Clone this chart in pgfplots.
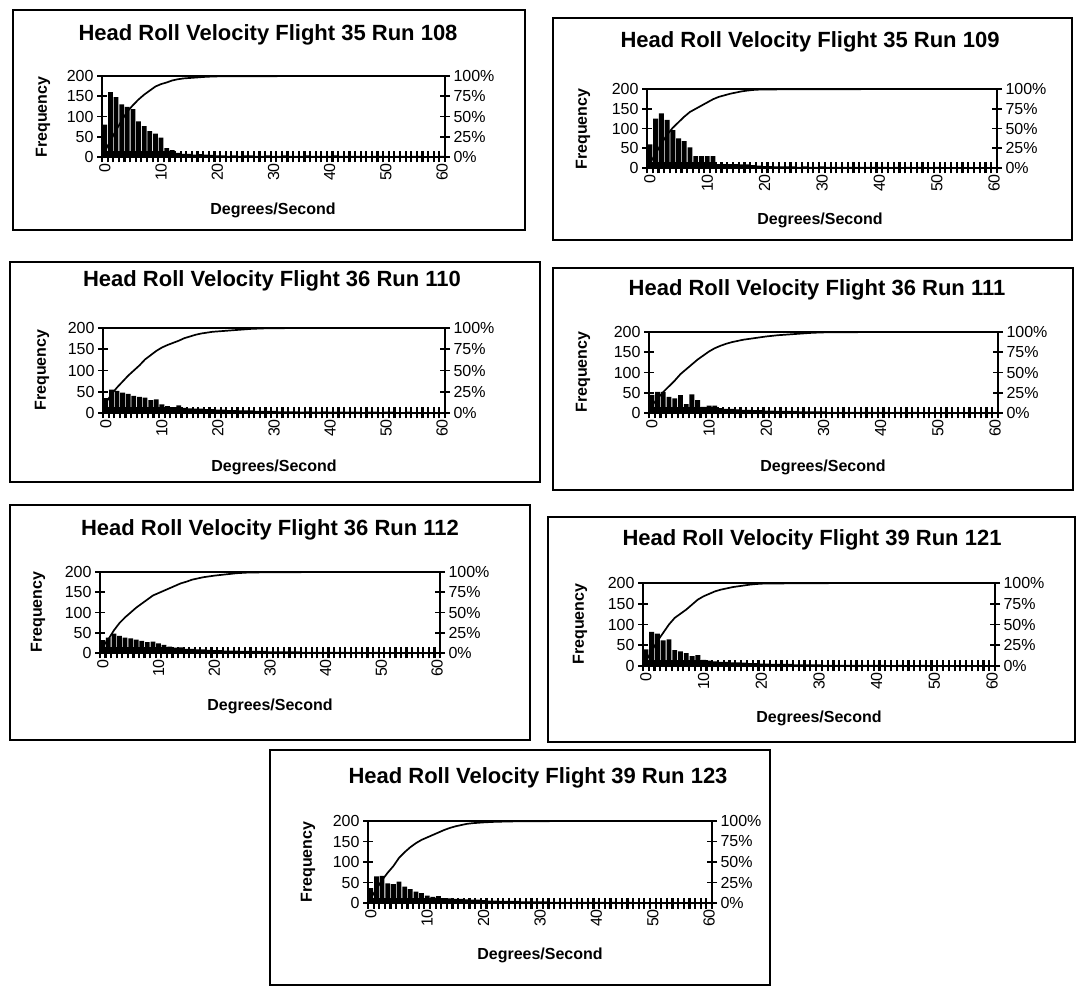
\documentclass[border=0pt]{standalone}
\usepackage{fontspec}
\setmainfont{Liberation Sans}
\usepackage{pgfplots}
\pgfplotsset{compat=1.18}
\usepackage{pgfplotstable}

% ---------- bars (frequency per 1 deg/s bin) ----------
\pgfplotstableread[row sep=\\]{x y\\0 80\\1 160\\2 148\\3 130\\4 124\\5 118\\6 88\\7 76\\8 64\\9 58\\10 48\\11 22\\12 17\\13 10\\14 8\\15 8\\16 6\\17 7\\18 6\\19 5\\20 4\\21 4\\22 3\\23 4\\24 3\\25 4\\26 4\\27 3\\28 3\\29 4\\30 3\\31 3\\32 4\\33 3\\34 3\\35 3\\36 4\\37 3\\38 3\\39 3\\40 3\\41 4\\42 3\\43 3\\44 3\\45 3\\46 3\\47 2\\48 3\\49 3\\50 3\\51 2\\52 3\\53 3\\54 2\\55 3\\56 3\\57 2\\58 2\\59 2\\60 3\\}\barsA
\pgfplotstableread[row sep=\\]{x y\\0 60\\1 125\\2 138\\3 122\\4 96\\5 75\\6 68\\7 52\\8 30\\9 30\\10 30\\11 30\\12 10\\13 10\\14 10\\15 10\\16 9\\17 9\\18 7\\19 6\\20 5\\21 5\\22 4\\23 4\\24 4\\25 4\\26 3\\27 4\\28 3\\29 3\\30 4\\31 3\\32 3\\33 3\\34 3\\35 3\\36 3\\37 3\\38 3\\39 3\\40 3\\41 3\\42 2\\43 3\\44 2\\45 3\\46 2\\47 3\\48 2\\49 2\\50 3\\51 2\\52 2\\53 2\\54 2\\55 2\\56 2\\57 2\\58 2\\59 2\\60 2\\}\barsB
\pgfplotstableread[row sep=\\]{x y\\0 35\\1 55\\2 52\\3 48\\4 45\\5 40\\6 38\\7 36\\8 30\\9 32\\10 20\\11 16\\12 14\\13 18\\14 12\\15 11\\16 10\\17 10\\18 9\\19 9\\20 8\\21 8\\22 7\\23 7\\24 6\\25 6\\26 6\\27 5\\28 5\\29 5\\30 5\\31 4\\32 4\\33 4\\34 4\\35 3\\36 4\\37 3\\38 3\\39 4\\40 3\\41 3\\42 3\\43 3\\44 3\\45 3\\46 2\\47 3\\48 3\\49 2\\50 3\\51 3\\52 2\\53 2\\54 3\\55 2\\56 2\\57 2\\58 2\\59 2\\60 2\\}\barsC
\pgfplotstableread[row sep=\\]{x y\\0 45\\1 52\\2 52\\3 40\\4 36\\5 44\\6 22\\7 46\\8 32\\9 15\\10 18\\11 18\\12 12\\13 10\\14 10\\15 9\\16 8\\17 8\\18 7\\19 7\\20 6\\21 6\\22 5\\23 5\\24 5\\25 5\\26 4\\27 4\\28 4\\29 4\\30 4\\31 3\\32 3\\33 3\\34 3\\35 3\\36 3\\37 3\\38 3\\39 3\\40 3\\41 3\\42 2\\43 3\\44 2\\45 2\\46 3\\47 2\\48 2\\49 2\\50 2\\51 2\\52 2\\53 2\\54 2\\55 2\\56 2\\57 2\\58 2\\59 2\\60 2\\}\barsD
\pgfplotstableread[row sep=\\]{x y\\0 32\\1 38\\2 48\\3 42\\4 38\\5 36\\6 33\\7 30\\8 27\\9 28\\10 24\\11 20\\12 16\\13 13\\14 14\\15 10\\16 10\\17 9\\18 9\\19 8\\20 7\\21 7\\22 6\\23 6\\24 6\\25 5\\26 5\\27 5\\28 5\\29 5\\30 4\\31 4\\32 4\\33 4\\34 4\\35 4\\36 3\\37 3\\38 3\\39 3\\40 3\\41 3\\42 3\\43 3\\44 3\\45 2\\46 3\\47 2\\48 2\\49 3\\50 2\\51 2\\52 2\\53 2\\54 2\\55 2\\56 2\\57 2\\58 2\\59 2\\60 2\\}\barsE
\pgfplotstableread[row sep=\\]{x y\\0 40\\1 82\\2 78\\3 62\\4 64\\5 38\\6 35\\7 31\\8 24\\9 26\\10 15\\11 13\\12 11\\13 10\\14 10\\15 9\\16 9\\17 8\\18 7\\19 7\\20 6\\21 6\\22 5\\23 5\\24 5\\25 5\\26 4\\27 4\\28 4\\29 4\\30 4\\31 3\\32 3\\33 3\\34 3\\35 3\\36 3\\37 3\\38 3\\39 3\\40 3\\41 3\\42 2\\43 2\\44 3\\45 2\\46 2\\47 2\\48 3\\49 2\\50 2\\51 2\\52 2\\53 2\\54 2\\55 2\\56 2\\57 2\\58 2\\59 2\\60 2\\}\barsF
\pgfplotstableread[row sep=\\]{x y\\0 36\\1 65\\2 66\\3 48\\4 46\\5 52\\6 40\\7 34\\8 28\\9 24\\10 18\\11 15\\12 17\\13 12\\14 11\\15 10\\16 10\\17 9\\18 8\\19 8\\20 7\\21 6\\22 6\\23 5\\24 5\\25 5\\26 5\\27 4\\28 4\\29 4\\30 4\\31 4\\32 3\\33 3\\34 3\\35 3\\36 3\\37 3\\38 3\\39 3\\40 3\\41 3\\42 2\\43 3\\44 2\\45 2\\46 3\\47 2\\48 2\\49 2\\50 2\\51 2\\52 2\\53 2\\54 2\\55 2\\56 2\\57 2\\58 2\\59 2\\60 2\\}\barsG

% ---------- cumulative percentage ----------
\pgfplotstableread[row sep=\\]{x y\\0 7\\1 20\\2 33\\3 45\\4 56\\5 64\\6 71\\7 77\\8 82\\9 87\\10 90\\11 92\\12 94.5\\13 96\\14 97\\15 97.5\\16 98\\17 98.5\\18 99\\19 99.3\\20 99.5\\25 99.7\\30 99.8\\40 99.9\\60 100\\}\cumA
\pgfplotstableread[row sep=\\]{x y\\0 6\\1 18\\2 31\\3 42\\4 51\\5 58\\6 65\\7 71\\8 75\\9 79\\10 83\\11 87\\12 90\\13 92\\14 94\\15 95.5\\16 97\\17 98\\18 98.8\\19 99.2\\20 99.4\\25 99.6\\30 99.7\\40 99.85\\60 100\\}\cumB
\pgfplotstableread[row sep=\\]{x y\\0 12\\1 22\\2 30\\3 37\\4 44\\5 50\\6 56\\7 63\\8 68\\9 73\\10 77\\11 80\\12 82.5\\13 85\\14 88\\15 90\\16 92\\17 93.5\\18 94.5\\19 95.5\\20 96\\22 97\\24 98\\26 99\\28 99.5\\30 99.8\\40 99.9\\60 100\\}\cumC
\pgfplotstableread[row sep=\\]{x y\\0 9\\1 18\\2 26\\3 33\\4 40\\5 48\\6 54\\7 60\\8 66\\9 71\\10 76\\11 80\\12 83\\13 85.5\\14 87.5\\15 89\\16 90.5\\17 91.5\\18 92.5\\19 93.5\\20 94.5\\22 96\\24 97\\26 98\\28 99\\30 99.5\\35 99.8\\45 99.9\\60 100\\}\cumD
\pgfplotstableread[row sep=\\]{x y\\0 8\\1 17\\2 28\\3 37\\4 44\\5 50\\6 56\\7 61\\8 66\\9 71\\10 74\\11 77\\12 80\\13 83\\14 86\\15 88\\16 90.5\\17 92\\18 93.5\\19 94.5\\20 95.5\\22 97\\24 98.5\\26 99.3\\30 99.7\\40 99.9\\60 100\\}\cumE
\pgfplotstableread[row sep=\\]{x y\\0 6\\1 18\\2 30\\3 40\\4 50\\5 58\\6 63\\7 68\\8 74\\9 80\\10 84\\11 87\\12 90\\13 92\\14 93.5\\15 95\\16 96\\17 97\\18 98\\19 98.7\\20 99.2\\25 99.6\\30 99.8\\40 99.9\\60 100\\}\cumF
\pgfplotstableread[row sep=\\]{x y\\0 6\\1 17\\2 28\\3 37\\4 45\\5 55\\6 62\\7 68\\8 73\\9 77\\10 80\\11 83\\12 86\\13 89\\14 91.5\\15 93.5\\16 95\\17 96.5\\18 97.3\\19 97.8\\20 98.3\\22 99\\25 99.5\\30 99.8\\40 99.9\\60 100\\}\cumG

\pgfplotsset{
  base/.style={anchor=north west, scale only axis,
    xmin=-0.5, xmax=60.5, ymin=0, ymax=200, enlargelimits=false,
    axis line style={line width=2pt}, axis on top,
    xtick={0,10,...,60}, minor xtick={-0.5,0.5,...,60.5},
    ytick={0,50,...,200},
    xtick pos=left, ytick pos=left,
    tick align=center,
    major tick length=10pt, minor tick length=11pt,
    tick style={line width=1.8pt, black},
    minor x tick style={line width=2.2pt},
    major x tick style={draw=none},
    ticklabel style={font=\fontsize{16}{16}\selectfont},
    xticklabel style={rotate=90, anchor=east, inner sep=1pt},
    /pgf/number format/assume math mode=true},
  sec/.style={anchor=north west, scale only axis,
    xmin=-0.5, xmax=60.5, ymin=0, ymax=100, enlargelimits=false,
    axis x line=none, axis y line*=right,
    axis line style={line width=2pt},
    ytick={0,25,...,100}, yticklabel={\pgfmathprintnumber{\tick}\%},
    tick align=center, major tick length=10pt,
    tick style={line width=1.8pt, black},
    ticklabel style={font=\fontsize{16}{16}\selectfont},
    /pgf/number format/assume math mode=true}
}

\newcommand\panel[6]{%
  \begin{axis}[base, at={(#1pt,#2pt)}, width=#3pt, height=#4pt]
    \addplot[ybar, bar width=0.85, fill=black, draw=none] table[x=x,y=y]{#5};
  \end{axis}
  \begin{axis}[sec, at={(#1pt,#2pt)}, width=#3pt, height=#4pt]
    \addplot[line width=1.7pt, black, mark=none, sharp plot] table[x=x,y=y]{#6};
  \end{axis}}

\newcommand\tfont{\fontsize{22}{26}\selectfont\bfseries}
\newcommand\lfont{\fontsize{16}{18}\selectfont\bfseries}

\begin{document}
\begin{tikzpicture}[x=1pt,y=1pt]
\useasboundingbox (0,0) rectangle (1077,989);

% Panel 1
\draw[line width=1.8pt] (13,759) rectangle (525,979);
\node[font=\tfont] at (268,954) {Head Roll Velocity Flight 35 Run 108};
\panel{102}{913}{343}{81}{\barsA}{\cumA}
\node[font=\lfont] at (273,779) {Degrees/Second};
\node[font=\lfont, rotate=90] at (43,872) {Frequency};

% Panel 2
\draw[line width=1.8pt] (553,749) rectangle (1072,971);
\node[font=\tfont] at (810,947) {Head Roll Velocity Flight 35 Run 109};
\panel{647}{900}{350}{79}{\barsB}{\cumB}
\node[font=\lfont] at (820,769) {Degrees/Second};
\node[font=\lfont, rotate=90] at (583,860) {Frequency};

% Panel 3
\draw[line width=1.8pt] (10,507) rectangle (540,727);
\node[font=\tfont] at (272,708) {Head Roll Velocity Flight 36 Run 110};
\panel{103}{661}{342}{85}{\barsC}{\cumC}
\node[font=\lfont] at (274,522) {Degrees/Second};
\node[font=\lfont, rotate=90] at (42,619) {Frequency};

% Panel 4
\draw[line width=1.8pt] (553,499) rectangle (1073,721);
\node[font=\tfont] at (817,699) {Head Roll Velocity Flight 36 Run 111};
\panel{649}{657}{349}{81}{\barsD}{\cumD}
\node[font=\lfont] at (823,522) {Degrees/Second};
\node[font=\lfont, rotate=90] at (583,617) {Frequency};

% Panel 5
\draw[line width=1.8pt] (10,249) rectangle (530,484);
\node[font=\tfont] at (270,459) {Head Roll Velocity Flight 36 Run 112};
\panel{100}{417}{340}{81}{\barsE}{\cumE}
\node[font=\lfont] at (270,283) {Degrees/Second};
\node[font=\lfont, rotate=90] at (38,377) {Frequency};

% Panel 6
\draw[line width=1.8pt] (548,247) rectangle (1075,472);
\node[font=\tfont] at (812,449) {Head Roll Velocity Flight 39 Run 121};
\panel{643}{406}{352}{83}{\barsF}{\cumF}
\node[font=\lfont] at (819,271) {Degrees/Second};
\node[font=\lfont, rotate=90] at (580,365) {Frequency};

% Panel 7
\draw[line width=1.8pt] (270,4) rectangle (770,239);
\node[font=\tfont] at (538,211) {Head Roll Velocity Flight 39 Run 123};
\panel{368}{168}{344}{82}{\barsG}{\cumG}
\node[font=\lfont] at (540,34) {Degrees/Second};
\node[font=\lfont, rotate=90] at (308,127) {Frequency};

\end{tikzpicture}
\end{document}
